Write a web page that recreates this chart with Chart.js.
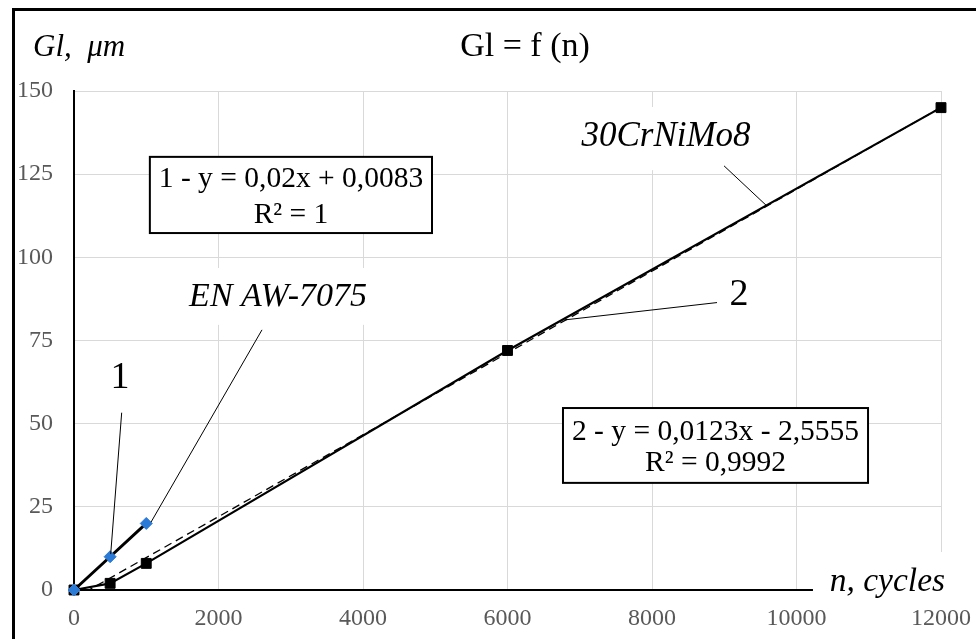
<!DOCTYPE html>
<html>
<head>
<meta charset="utf-8">
<script src="https://cdn.jsdelivr.net/npm/chart.js@4"></script>
<style>
  html, body { margin: 0; padding: 0; background: #fff; }
  #wrap { width: 976px; height: 639px; position: relative; }
</style>
</head>
<body>
<div id="wrap"><canvas id="c" width="976" height="639"></canvas></div>
<script>
// ---- data ----
const nSteel = [0, 500, 1000, 6000, 12000];
const glSteel = [0, 2, 8, 72, 145];
const nAlu = [0, 500, 1000];
const glAlu = [0, 10, 20];
// linear trendline 2 (from the shown equation)
const trend2Slope = 0.0123;
const trend2Intercept = -2.5555;
const trendX = [0, 12000];
const xTicks = [0, 2000, 4000, 6000, 8000, 10000, 12000];
const yTicks = [0, 25, 50, 75, 100, 125, 150];

const titleText = 'Gl = f (n)';
const yTitle = 'Gl,  \u03BCm';
const xTitle = 'n, cycles';
const eq1 = ['1 - y = 0,02x + 0,0083', 'R\u00B2 = 1'];
const eq2 = ['2 - y = 0,0123x - 2,5555', 'R\u00B2 = 0,9992'];

const SERIF = "'Liberation Serif', 'Times New Roman', serif";

const pts = (xs, ys) => xs.map((x, i) => ({x: x, y: ys[i]}));

const annot = {
  id: 'annot',
  beforeDatasetsDraw(chart) {
    const ctx = chart.ctx;
    const X = v => chart.scales.x.getPixelForValue(v);
    const Y = v => chart.scales.y.getPixelForValue(v);
    ctx.save();
    ctx.fillStyle = '#fff';
    const whites = [
      [1467, 96.8, 4235, 79.7],    // EN AW-7075
      [6750, 145.2, 9495, 126.2],  // 30CrNiMo8
      [10228, 11.4, 12280, -3.0]   // n, cycles
    ];
    whites.forEach(w => {
      const x1 = X(w[0]), y1 = Y(w[1]), x2 = X(w[2]), y2 = Y(w[3]);
      ctx.fillRect(x1, y1, x2 - x1, y2 - y1);
    });
    ctx.restore();
  },
  afterDatasetsDraw(chart) {
    const ctx = chart.ctx;
    const X = v => chart.scales.x.getPixelForValue(v);
    const Y = v => chart.scales.y.getPixelForValue(v);
    ctx.save();
    ctx.strokeStyle = '#000';
    ctx.lineWidth = 3;
    ctx.strokeRect(13.5, 9.5, 1000, 700);

    ctx.lineWidth = 1;
    const leaders = [
      [660, 53.3, 508, 10.8],
      [2602, 78.2, 1066, 20.4],
      [8900, 86.4, 6796, 81.2],
      [8997, 127.5, 9592, 115.4]
    ];
    leaders.forEach(l => {
      ctx.beginPath();
      ctx.moveTo(X(l[0]), Y(l[1]));
      ctx.lineTo(X(l[2]), Y(l[3]));
      ctx.stroke();
    });

    const boxes = [
      {x1: 1050, y1: 130.2, x2: 4955, y2: 107.3, lines: eq1, ly: [123.5, 112.7], cx: 3003},
      {x1: 6768, y1: 54.7, x2: 10990, y2: 32.2, lines: eq2, ly: [47.5, 38.2], cx: 8879}
    ];
    boxes.forEach(b => {
      const x1 = X(b.x1), y1 = Y(b.y1), x2 = X(b.x2), y2 = Y(b.y2);
      ctx.fillStyle = '#fff';
      ctx.fillRect(x1, y1, x2 - x1, y2 - y1);
      ctx.lineWidth = 2;
      ctx.strokeStyle = '#000';
      ctx.strokeRect(x1, y1, x2 - x1, y2 - y1);
      ctx.fillStyle = '#000';
      ctx.font = '29.5px ' + SERIF;
      ctx.textAlign = 'center';
      ctx.textBaseline = 'middle';
      b.lines.forEach((t, i) => ctx.fillText(t, X(b.cx), Y(b.ly[i])));
    });

    ctx.fillStyle = '#000';
    ctx.textAlign = 'center';
    ctx.textBaseline = 'middle';
    ctx.font = 'italic 34px ' + SERIF;
    ctx.fillText('EN AW-7075', X(2824), Y(88.1));
    ctx.font = 'italic 35px ' + SERIF;
    ctx.fillText('30CrNiMo8', X(8194), Y(136.2));
    ctx.font = '38px ' + SERIF;
    ctx.fillText('1', X(637), Y(63.7));
    ctx.fillText('2', X(9204), Y(88.7));

    ctx.textBaseline = 'alphabetic';
    ctx.textAlign = 'left';
    ctx.font = 'italic 33.5px ' + SERIF;
    ctx.fillText(xTitle, X(10460), Y(-0.3));
    ctx.font = 'italic 31px ' + SERIF;
    ctx.fillText(yTitle, 33, 56);
    ctx.textAlign = 'center';
    ctx.font = '34px ' + SERIF;
    ctx.fillText(titleText, 525, 56);
    ctx.restore();
  }
};

new Chart(document.getElementById('c'), {
  type: 'scatter',
  data: {
    datasets: [
      {
        label: 'trend 2',
        data: trendX.map(x => ({x: x, y: trend2Slope * x + trend2Intercept})),
        showLine: true,
        borderColor: '#000',
        borderWidth: 1.3,
        borderDash: [8, 5],
        pointRadius: 0,
        fill: false,
        order: 3
      },
      {
        label: '30CrNiMo8',
        data: pts(nSteel, glSteel),
        showLine: true,
        clip: false,
        borderColor: '#000',
        borderWidth: 2.2,
        pointStyle: 'rect',
        pointRadius: 7,
        backgroundColor: '#000',
        pointBorderColor: '#000',
        pointBorderWidth: 1,
        order: 2
      },
      {
        label: 'EN AW-7075',
        data: pts(nAlu, glAlu),
        showLine: true,
        clip: false,
        borderColor: '#000',
        borderWidth: 3,
        pointStyle: 'rectRot',
        pointRadius: 6,
        pointBackgroundColor: '#2a7ad6',
        pointBorderColor: '#2a7ad6',
        pointBorderWidth: 1,
        order: 1
      }
    ]
  },
  options: {
    responsive: false,
    animation: false,
    layout: { padding: { top: 91, right: 35, bottom: 0, left: 0 } },
    plugins: {
      legend: { display: false },
      tooltip: { enabled: false },
      title: { display: false }
    },
    scales: {
      x: {
        type: 'linear',
        min: 0, max: 12000,
        afterFit: s => { s.height = 49; s.paddingRight = 0; s.paddingLeft = 0; },
        afterBuildTicks: s => { s.ticks = xTicks.map(v => ({value: v})); },
        ticks: {
          color: '#595959',
          font: { family: SERIF, size: 24 },
          padding: 14,
          maxRotation: 0,
          callback: v => String(v)
        },
        grid: { color: '#d9d9d9', lineWidth: 1, drawTicks: false },
        border: { color: '#000', width: 2 }
      },
      y: {
        type: 'linear',
        min: 0, max: 150,
        afterFit: s => { s.width = 74; s.paddingTop = 0; s.paddingBottom = 0; },
        afterBuildTicks: s => { s.ticks = yTicks.map(v => ({value: v})); },
        ticks: {
          color: '#595959',
          font: { family: SERIF, size: 24 },
          padding: 21,
          callback: v => String(v)
        },
        grid: { color: '#d9d9d9', lineWidth: 1, drawTicks: false },
        border: { color: '#000', width: 2 }
      }
    }
  },
  plugins: [annot]
});
</script>
</body>
</html>
